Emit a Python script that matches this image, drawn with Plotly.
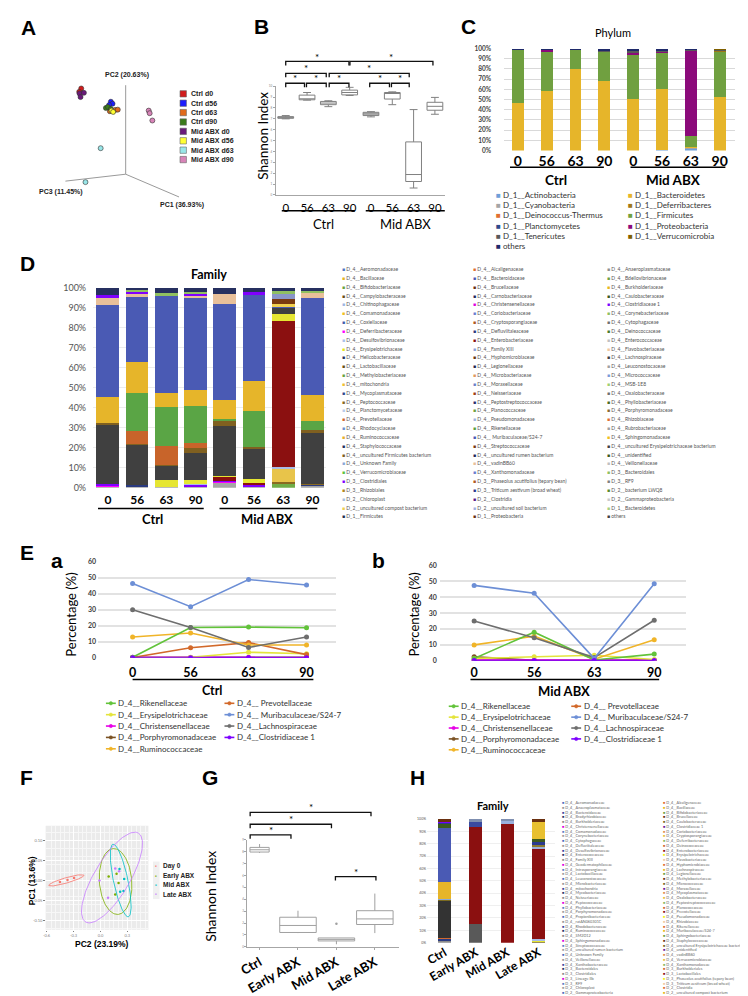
import numpy as np
import plotly.graph_objects as go

W, H = 748, 996
FONT = "Lato"
ARIAL = "Liberation Sans"

def X(p): return p / W
def Y(p): return 1 - p / H
def dx(a, b): return [a / W, b / W]
def dy(top, bottom): return [1 - bottom / H, 1 - top / H]

# ===================== DATA =====================
# ---- A : 3-D PCoA, projected screen coordinates of each sample ----
pcoa_groups = ["Ctrl d0", "Ctrl d56", "Ctrl d63", "Ctrl d90",
               "Mid ABX d0", "Mid ABX d56", "Mid ABX d63", "Mid ABX d90"]
pcoa_colors = ["#d01c1c", "#1c1cff", "#e06a1c", "#3a7a1a",
               "#6a1a7a", "#ffff33", "#99e6e8", "#d884b8"]
pcoa_x = [[65, 63], [95, 96.7, 93.3], [99.3, 102, 94], [90, 92, 95],
          [63.3, 67.7, 64.3], [95.7, 97.3], [84.7, 69.3], [133.3, 134.3, 137]]
pcoa_y = [[75.3, 78.7], [88.7, 90.7, 92], [97, 96.7, 98.3], [95, 94, 96],
          [80.3, 79.7, 84], [97.7, 99], [135.7, 170], [97.7, 100.3, 107.7]]
pcoa_axis_labels = ["PC2 (20.63%)", "PC3 (11.45%)", "PC1 (36.93%)"]

# ---- B : Shannon index boxes ----
b_days = ["0", "56", "63", "90", "0", "56", "63", "90"]
b_lower = [7.00, 8.72, 8.12, 9.15, 7.18, 8.30, 0.64, 7.42]
b_q1 = [7.05, 8.75, 8.30, 9.20, 7.30, 8.82, 1.24, 7.79]
b_med = [7.14, 8.82, 8.45, 9.42, 7.45, 9.36, 1.88, 8.15]
b_q3 = [7.20, 9.18, 8.60, 9.64, 7.60, 9.42, 4.88, 8.52]
b_upper = [7.30, 9.42, 8.66, 9.90, 7.66, 9.48, 7.85, 8.97]
b_fill = ["#c8c8c8", "#ffffff", "#ffffff", "#ffffff", "#c8c8c8", "#ffffff", "#ffffff", "#ffffff"]

# ---- C : Phylum (%) ----
c_days = ["0", "56", "63", "90", "0", "56", "63", "90"]
c_Actinobacteria = [0, 0, 0, 0, 0, 1.0, 2.5, 0]
c_Cyanobacteria = [0, 0, 0, 0, 0, 0, 1.0, 0]
c_Bacteroidetes = [47, 59, 80, 69, 51, 60, 0.5, 52.5]
c_Firmicutes = [52.5, 39, 19.5, 28.5, 44, 36, 11, 45]
c_Proteobacteria = [0, 1.5, 0, 0.5, 1.5, 0.5, 84, 0]
c_Deferribacteres = [0, 0, 0, 0, 0, 0, 0, 1.0]
c_Tenericutes = [0, 0, 0, 1.0, 2.5, 1.0, 0.5, 1.0]
c_Verrucomicrobia = [0, 0, 0, 0, 0, 0, 0, 0.5]
c_others = [0.5, 0.5, 0.5, 1.0, 1.0, 1.5, 0.5, 0]
c_leg1_names = ["D_1__Actinobacteria", "D_1__Cyanobacteria", "D_1__Deinococcus-Thermus",
                "D_1__Planctomycetes", "D_1__Tenericutes", "others"]
c_leg1_colors = ["#6f9fd8", "#a5a5a5", "#e07030", "#2e4a8a", "#595959", "#1f2a6a"]
c_leg2_names = ["D_1__Bacteroidetes", "D_1__Deferribacteres", "D_1__Firmicutes",
                "D_1__Proteobacteria", "D_1__Verrucomicrobia"]
c_leg2_colors = ["#e6b52a", "#a07818", "#70a040", "#8b0a7a", "#7f6000"]

# ---- D : Family (%) ----
d_days = ["0", "56", "63", "90", "0", "56", "63", "90"]
d_Anaeroplasmataceae = [0.5, 0.8, 0.5, 0.8, 2.5, 0.5, 0, 1.0]
d_Bdellovibrionaceae = [0, 0, 0, 0, 0, 0, 2.0, 0]
d_Carnobacteriaceae = [0, 0.7, 0, 0, 0, 0, 0, 0.5]
d_Christensenellaceae = [0.8, 0, 0, 0, 0.5, 0.3, 0, 0]
d_Clostridiaceae1 = [0.7, 0, 0, 0.7, 0.5, 0.5, 0, 0]
d_Peptococcaceae = [0, 0, 0, 0, 0, 0, 1.0, 0.5]
d_Sphingomonadaceae = [0, 0, 0, 0, 0, 0, 6.7, 0]
d_Pseudomonadaceae = [0, 0, 0, 0.5, 0, 0, 0.5, 0]
d_Enterobacteriaceae = [0, 0, 0, 0, 2.0, 1.2, 73.5, 0]
d_Erysipelotrichaceae = [0, 0, 3.5, 2.0, 0.5, 2.0, 3.3, 0]
d_Lachnospiraceae = [29.5, 20.0, 7.0, 13.3, 25.0, 15.0, 3.0, 25.5]
d_Porphyromonadaceae = [1.0, 0.5, 0.5, 2.7, 2.5, 1.0, 0, 1.5]
d_Prevotellaceae = [0, 6.5, 9.5, 2.2, 0, 0, 0, 0]
d_Rikenellaceae = [0, 19.0, 19.2, 18.9, 1.0, 18.0, 0, 4.2]
d_Ruminococcaceae = [13.0, 15.5, 7.0, 8.0, 9.5, 15.0, 0, 13.3]
d_Muribaculaceae = [46.1, 32.5, 49.0, 45.7, 48.2, 43.0, 0.5, 48.7]
d_vadinBB60 = [3.4, 1.5, 0, 1.3, 5.0, 0, 0, 2.3]
d_Clostridiales = [1.3, 1.0, 0, 1.0, 0, 1.5, 0, 0]
d_compost = [0, 0, 0, 0, 0, 0, 1.7, 0]
d_Streptococcaceae = [0, 0, 0, 0, 0, 0, 2.4, 0]
d_Coriobacteriaceae = [0, 0, 0, 0, 0, 0, 2.8, 0]
d_Corynebacteriaceae = [0, 1.0, 1.5, 1.0, 0, 0, 1.0, 1.0]
d_others = [3.7, 1.0, 2.3, 1.9, 2.8, 2.0, 1.6, 1.5]

d_leg1_names = ["D_4__Aeromonadaceae", "D_4__Bacillaceae", "D_4__Bifidobacteriaceae", "D_4__Campylobacteraceae",
                "D_4__Chitinophagaceae", "D_4__Comamonadaceae", "D_4__Coxiellaceae", "D_4__Deferribacteraceae",
                "D_4__Desulfovibrionaceae", "D_4__Erysipelotrichaceae", "D_4__Helicobacteraceae",
                "D_4__Lactobacillaceae", "D_4__Methylobacteriaceae", "D_4__mitochondria", "D_4__Mycoplasmataceae",
                "D_4__Peptococcaceae", "D_4__Planctomycetaceae", "D_4__Prevotellaceae", "D_4__Rhodocyclaceae",
                "D_4__Ruminococcaceae", "D_4__Staphylococcaceae", "D_4__uncultured Firmicutes bacterium",
                "D_4__Unknown Family", "D_4__Verrucomicrobiaceae", "D_3__Clostridiales", "D_3__Rhizobiales",
                "D_2__Chloroplast", "D_2__uncultured compost bacterium", "D_1__Firmicutes"]
d_leg1_colors = ["#4f77c4", "#e8b620", "#6aa23c", "#6b4e12", "#9db6e3", "#f0c020", "#3f5fae", "#ff00ff",
                 "#a9c1ea", "#e6e620", "#22335f", "#6a5010", "#6aa23c", "#f0c030", "#2e4a90", "#8a6a20",
                 "#b8cbea", "#d06a30", "#6a90d0", "#e8b02a", "#203060", "#806020", "#8aa8d8", "#5ec43e",
                 "#8000ff", "#b08820", "#a8c0e0", "#f0d050", "#203050"]
d_leg2_names = ["D_4__Alcaligenaceae", "D_4__Bacteroidaceae", "D_4__Brucellaceae", "D_4__Carnobacteriaceae",
                "D_4__Christensenellaceae", "D_4__Coriobacteriaceae", "D_4__Cryptosporangiaceae",
                "D_4__Defluviitaleaceae", "D_4__Enterobacteriaceae", "D_4__Family XIII", "D_4__Hyphomicrobiaceae",
                "D_4__Legionellaceae", "D_4__Microbacteriaceae", "D_4__Moraxellaceae", "D_4__Neisseriaceae",
                "D_4__Peptostreptococcaceae", "D_4__Planococcaceae", "D_4__Pseudomonadaceae", "D_4__Rikenellaceae",
                "D_4__ Muribaculaceae/S24-7", "D_4__Streptococcaceae", "D_4__uncultured rumen bacterium",
                "D_4__vadinBB60", "D_4__Xanthomonadaceae", "D_3__Phaseolus acutifolius (tepary bean)",
                "D_3__Triticum aestivum (broad wheat)", "D_2__Clostridia", "D_2__uncultured soil bacterium",
                "D_1__Proteobacteria"]
d_leg2_colors = ["#e07030", "#4a5ab4", "#6a3010", "#202a60", "#e000e0", "#6a7ed0", "#b05a20", "#2a3a80",
                 "#8b1010", "#8aa0d8", "#6a3a10", "#1e2850", "#e09860", "#6a80c8", "#a04010", "#2a3070",
                 "#70a040", "#a0b4e0", "#5aa040", "#4a5ab4", "#7a3a10", "#1e2a5a", "#e8c09a", "#6a7ed0",
                 "#b05a20", "#2a3a90", "#5a1a8a", "#a0b0e0", "#6a3010"]
d_leg3_names = ["D_4__Anaeroplasmataceae", "D_4__Bdellovibrionaceae", "D_4__Burkholderiaceae",
                "D_4__Caulobacteraceae", "D_4__Clostridiaceae 1", "D_4__Corynebacteriaceae", "D_4__Cytophagaceae",
                "D_4__Deinococcaceae", "D_4__Enterococcaceae", "D_4__Flavobacteriaceae", "D_4__Lachnospiraceae",
                "D_4__Leuconostocaceae", "D_4__Micrococcaceae", "D_4__MSB-1E8", "D_4__Oxalobacteraceae",
                "D_4__Phyllobacteriaceae", "D_4__Porphyromonadaceae", "D_4__Rhizobiaceae", "D_4__Rubrobacteriaceae",
                "D_4__Sphingomonadaceae", "D_4__uncultured Erysipelotrichaceae bacterium", "D_4__unidentified",
                "D_4__Veillonellaceae", "D_3__Bacteroidales", "D_3__RF9", "D_2__bacterium LWQ8",
                "D_2__Gammaproteobacteria", "D_1__Bacteroidetes", "others"]
d_leg3_colors = ["#909090", "#70a040", "#e8b820", "#3a5a1a", "#7a00ff", "#90c060", "#707070", "#4a7a2a",
                 "#c0c0c0", "#f0c8a0", "#404040", "#a0a0a0", "#7a9ad8", "#a0d070", "#707070", "#4a6a20",
                 "#8a6a30", "#e07030", "#a0a0a0", "#f0c020", "#404040", "#3a5a1a", "#c0c0c0", "#90c060",
                 "#808080", "#5a8a2a", "#c8c8c8", "#a8d080", "#404040"]

# ---- E : selected families over time (%) ----
e_days = ["0", "56", "63", "90"]
ea_Rikenellaceae = [0.3, 19.0, 19.2, 18.8]
ea_Prevotellaceae = [0.2, 6.3, 9.5, 2.0]
ea_Erysipelotrichaceae = [0.2, 0.3, 3.5, 2.5]
ea_Muribaculaceae = [46.5, 32.0, 49.0, 45.5]
ea_Christensenellaceae = [0.3, 0.2, 0.2, 0.2]
ea_Lachnospiraceae = [30.0, 19.0, 6.5, 13.0]
ea_Porphyromonadaceae = [0.2, 0.2, 0.2, 0.3]
ea_Clostridiaceae1 = [0.1, 0.1, 0.1, 0.1]
ea_Ruminococcaceae = [13.0, 15.5, 8.0, 8.0]

eb_Rikenellaceae = [1.5, 18.0, 0.5, 4.2]
eb_Prevotellaceae = [0.3, 0.2, 0.2, 0.2]
eb_Erysipelotrichaceae = [1.5, 2.5, 3.5, 0.8]
eb_Muribaculaceae = [47.5, 42.5, 1.5, 48.5]
eb_Christensenellaceae = [0.5, 0.3, 0.3, 0.3]
eb_Lachnospiraceae = [25.0, 14.5, 2.0, 25.5]
eb_Porphyromonadaceae = [2.5, 0.3, 0.2, 0.5]
eb_Clostridiaceae1 = [0.2, 0.2, 0.2, 0.2]
eb_Ruminococcaceae = [10.0, 15.5, 1.0, 13.3]

# ---- F : PCA ----
f_groups = ["Day 0", "Early ABX", "Mid ABX", "Late ABX"]
f_colors = ["#f8766d", "#7cae00", "#00bfc4", "#c77cff"]
f_pc2 = [[-0.452, -0.367, -0.294], [0.092, 0.180, 0.202, 0.165],
         [0.213, 0.265, 0.257, 0.220], [0.165, 0.209, -0.011, 0.085]]
f_pc1 = [[-0.004, 0.001, 0.006], [0.010, 0.017, -0.006, -0.035],
         [0.029, 0.004, -0.026, -0.028], [0.030, 0.023, 0.000, -0.043]]
f_ell_center = [(-0.380, 0.0004), (0.169, -0.0025), (0.226, 0.0), (0.129, 0.0074)]
f_ell_major = [(0.196, 0.0127), (-0.0276, 0.0822), (-0.086, 0.0906), (0.294, 0.111)]
f_ell_minor = [(0.0083, -0.0064), (0.180, 0.003), (0.0787, 0.00375), (0.171, -0.0227)]

# ---- G : Shannon index by ABX timing ----
g_cats = ["Ctrl", "Early ABX", "Mid ABX", "Late ABX"]
g_lower = [7.89, 1.16, 0.22, 1.16]
g_q1 = [7.97, 1.21, 0.50, 1.88]
g_med = [8.16, 1.80, 0.63, 2.35]
g_q3 = [8.36, 2.49, 0.75, 3.04]
g_upper = [8.64, 3.04, 0.75, 4.48]
g_width = [0.5, 0.95, 0.95, 0.95]
g_outlier_cat = [2]
g_outlier_val = [1.94]

# ---- H : Family (%) by ABX timing ----
h_cats = ["Ctrl", "Early ABX", "Mid ABX", "Late ABX"]
h_Desulfovibrionaceae = [2.0, 0, 0, 0]
h_Defluviitaleaceae = [1.0, 0, 0, 0]
h_Prevotellaceae = [0.7, 0, 0, 0]
h_Enterococcaceae = [0, 15.2, 0, 0]
h_Lactobacillaceae = [0, 0, 0, 1.0]
h_Erysipelotrichaceae = [0, 0, 0, 1.0]
h_Pseudomonadaceae = [0, 0, 0, 1.2]
h_Lachnospiraceae = [30.2, 0, 0, 0]
h_Porphyromonadaceae = [1.1, 0, 0, 0]
h_Peptococcaceae = [0.5, 0, 0, 0]
h_Ruminococcaceae = [13.5, 0, 0, 0]
h_Muribaculaceae = [43.5, 0, 0, 0]
h_Enterobacteriaceae = [0, 78.7, 96.0, 73.3]
h_Bacteroidaceae = [0, 4.0, 0, 0]
h_Micrococcaceae = [0, 0, 2.0, 1.0]
h_Peptostreptococcaceae = [0, 0, 0, 2.0]
h_Staphylococcaceae = [0, 0, 0, 1.6]
h_unidentified = [3.7, 0, 0, 2.4]
h_Lactobacillales = [0, 0, 0, 14.4]
h_Clostridiales = [0.8, 0, 0, 0]
h_Clostridiaceae1 = [0.3, 0, 0, 0]
h_Streptococcaceae = [2.7, 0, 0, 2.1]
h_others = [0, 2.1, 2.0, 0]

h_leg1_names = ["D_4__Aeromonadaceae", "D_4__Anaeroplasmataceae", "D_4__Bacteroidaceae", "D_4__Bradyrhizobiaceae",
                "D_4__Burkholderiaceae", "D_4__Christensenellaceae", "D_4__Comamonadaceae", "D_4__Corynebacteriaceae",
                "D_4__Cytophagaceae", "D_4__Defluviitaleaceae", "D_4__Desulfovibrionaceae", "D_4__Enterococcaceae",
                "D_4__Family XIII", "D_4__Geodermatophilaceae", "D_4__Intrasporangiaceae", "D_4__Lactobacillaceae",
                "D_4__Leuconostocaceae", "D_4__Microbacteriaceae", "D_4__mitochondria", "D_4__Mycobacteriaceae",
                "D_4__Neisseriaceae", "D_4__Peptococcaceae", "D_4__Phyllobacteriaceae", "D_4__Porphyromonadaceae",
                "D_4__Propionibacteriaceae", "D_4__ratAN060301C", "D_4__Rhodobacteraceae", "D_4__Ruminococcaceae",
                "D_4__SM2D12", "D_4__Sphingomonadaceae", "D_4__Streptococcaceae", "D_4__uncultured rumen bacterium",
                "D_4__Unknown Family", "D_4__Veillonellaceae", "D_4__Xanthobacteraceae", "D_3__Bacteroidales",
                "D_3__Clostridiales", "D_3__Lineage IIb", "D_3__RF9", "D_2__Chloroplast", "D_2__Gammaproteobacteria"]
h_leg2_names = ["D_4__Alcaligenaceae", "D_4__Bacillaceae", "D_4__Bifidobacteriaceae", "D_4__Brucellaceae",
                "D_4__Caulobacteraceae", "D_4__Clostridiaceae 1", "D_4__Coriobacteriaceae", "D_4__Cryptosporangiaceae",
                "D_4__Deferribacteraceae", "D_4__Deinococcaceae", "D_4__Enterobacteriaceae",
                "D_4__Erysipelotrichaceae", "D_4__Flavobacteriaceae", "D_4__Hyphomicrobiaceae",
                "D_4__Lachnospiraceae", "D_4__Legionellaceae", "D_4__Methylobacteriaceae", "D_4__Micrococcaceae",
                "D_4__Moraxellaceae", "D_4__Mycoplasmataceae", "D_4__Oxalobacteraceae",
                "D_4__Peptostreptococcaceae", "D_4__Planococcaceae", "D_4__Prevotellaceae",
                "D_4__Pseudomonadaceae", "D_4__Rhizobiaceae", "D_4__Rikenellaceae", "D_4__Muribaculaceae/S24-7",
                "D_4__Sphingobacteriaceae", "D_4__Staphylococcaceae",
                "D_4__uncultured Erysipelotrichaceae bacterium", "D_4__unidentified", "D_4__vadinBB60",
                "D_4__Verrucomicrobiaceae", "D_4__Xanthomonadaceae", "D_3__Burkholderiales", "D_3__Lactobacillales",
                "D_3__Phaseolus acutifolius (tepary bean)", "D_3__Triticum aestivum (bread wheat)",
                "D_2__Clostridia", "D_2__uncultured compost bacterium"]
h_leg1_palette = ["#4a6fc0", "#9a9a9a", "#3a4aa0", "#26366a", "#8c8c8c", "#e000e0", "#5b7fc7", "#a0a0a0"]
h_leg2_palette = ["#e07030", "#e8b820", "#70a040", "#6a3010", "#7a6a20", "#6a1a9a", "#e09050", "#e8c040",
                  "#8ab860", "#d06a30", "#8b1010", "#f0f020", "#f0c8a0"]

# ===================== FIGURE =====================
fig = go.Figure()
shapes, annos = [], []

def line_px(x0, y0, x1, y1, color="#000", width=1.0):
    shapes.append(dict(type="line", xref="paper", yref="paper", x0=X(x0), y0=Y(y0), x1=X(x1), y1=Y(y1),
                       line=dict(color=color, width=width)))

def text_px(x, y, txt, size=10, color="#000", family=FONT, xanchor="center", yanchor="middle", angle=0):
    annos.append(dict(x=X(x), y=Y(y), xref="paper", yref="paper", text=txt, showarrow=False,
                      font=dict(size=size, color=color, family=family), xanchor=xanchor, yanchor=yanchor,
                      textangle=angle, borderpad=0))

def bracket(x0, x1, y, h=4, star_dy=5):
    shapes.append(dict(type="path", xref="paper", yref="paper",
                       path=f"M {X(x0)},{Y(y + h)} L {X(x0)},{Y(y)} L {X(x1)},{Y(y)} L {X(x1)},{Y(y + h)}",
                       line=dict(color="#111", width=1.3)))
    text_px((x0 + x1) / 2, y - star_dy, "*", size=10)

# ---- panel letters ----
for L, x, y in [("A", 12, 14), ("B", 247, 13), ("C", 457, 13), ("D", 11, 252), ("E", 10, 545),
                ("a", 40, 553), ("b", 366, 553), ("F", 10, 772), ("G", 195, 772), ("H", 405, 772)]:
    text_px(x, y, f"<b>{L}</b>", size=21, family=ARIAL)

# ---- A ----
for g, c, xs, ys in zip(pcoa_groups, pcoa_colors, pcoa_x, pcoa_y):
    fig.add_trace(go.Scatter(x=xs, y=ys, mode="markers", xaxis="x", yaxis="y", showlegend=False,
                             marker=dict(size=5, color=c, line=dict(color="#333", width=0.6))))
for (x1, y1) in [(110, 72), (49, 169), (164, 185)]:
    shapes.append(dict(type="line", xref="x", yref="y", x0=110, y0=162, x1=x1, y1=y1,
                       line=dict(color="#9a9a9a", width=1)))
for lab, (x, y) in zip(pcoa_axis_labels, [(111, 62), (45, 180), (167, 193)]):
    text_px(x, y, f"<b>{lab}</b>", size=7, family=ARIAL, color="#222")
for i, (g, c) in enumerate(zip(pcoa_groups, pcoa_colors)):
    ry = 80.7 + 9.5 * i
    shapes.append(dict(type="rect", xref="paper", yref="paper", x0=X(165), x1=X(171.5), y0=Y(ry + 3.2),
                       y1=Y(ry - 3.2), fillcolor=c, line=dict(color="#666", width=0.6)))
    text_px(175, ry, f"<b>{g}</b>", size=7, family=ARIAL, color="#222", xanchor="left")

# ---- B ----
for i in range(len(b_days)):
    fig.add_trace(go.Box(x=[i], q1=[b_q1[i]], median=[b_med[i]], q3=[b_q3[i]], lowerfence=[b_lower[i]],
                         upperfence=[b_upper[i]], xaxis="x2", yaxis="y2", width=0.74, fillcolor=b_fill[i],
                         line=dict(color="#808080", width=1), whiskerwidth=0.5, showlegend=False,
                         boxpoints=False))
for (x0, x1, y) in [(272, 291, 70), (293, 313, 70), (316, 336, 70), (357, 377, 70), (379, 397, 70),
                    (272, 313, 60), (316, 397, 60), (272, 336, 48), (337, 421, 48)]:
    bracket(x0, x1, y)
line_px(268, 199, 342, 199, width=1.6)
line_px(353, 199, 433, 199, width=1.6)
text_px(310, 212, "Ctrl", size=13)
text_px(393, 212, "Mid ABX", size=13)
text_px(249, 123, "Shannon Index", size=13.5, angle=-90)

# ---- C ----
c_series = [(c_Actinobacteria, "#6f9fd8"), (c_Cyanobacteria, "#a5a5a5"), (c_Bacteroidetes, "#e6b52a"),
            (c_Firmicutes, "#70a040"), (c_Proteobacteria, "#8b0a7a"), (c_Deferribacteres, "#a07818"),
            (c_Tenericutes, "#595959"), (c_Verrucomicrobia, "#7f6000"), (c_others, "#1f2a6a")]
for vals, col in c_series:
    fig.add_trace(go.Bar(x=list(range(8)), y=vals, xaxis="x3", yaxis="y3", marker=dict(color=col, line=dict(width=0)),
                         width=0.41, showlegend=False))
text_px(603, 19, "Phylum", size=11)
line_px(499, 155, 594, 155, width=1.6)
line_px(621, 155, 717, 155, width=1.6)
text_px(546, 168, "<b>Ctrl</b>", size=13.5)
text_px(664, 168, "<b>Mid ABX</b>", size=13.5)
for i, (n, c) in enumerate(zip(c_leg1_names, c_leg1_colors)):
    text_px(484, 183 + 10.3 * i, f"<span style='color:{c}'>■</span> {n}", size=8, color="#333", xanchor="left")
for i, (n, c) in enumerate(zip(c_leg2_names, c_leg2_colors)):
    text_px(617, 183 + 10.3 * i, f"<span style='color:{c}'>■</span> {n}", size=8, color="#333", xanchor="left")

# ---- D ----
d_series = [(d_Anaeroplasmataceae, "#a6a6a6"), (d_Bdellovibrionaceae, "#70ad47"), (d_Carnobacteriaceae, "#2a3a80"),
            (d_Christensenellaceae, "#ff00ff"), (d_Clostridiaceae1, "#7f00ff"), (d_Peptococcaceae, "#8a6a20"),
            (d_Sphingomonadaceae, "#e8c44a"), (d_Pseudomonadaceae, "#a9bde6"), (d_Enterobacteriaceae, "#8b1010"),
            (d_Erysipelotrichaceae, "#e6e632"), (d_Lachnospiraceae, "#404040"), (d_Porphyromonadaceae, "#806020"),
            (d_Prevotellaceae, "#c8642a"), (d_Rikenellaceae, "#5aa545"), (d_Ruminococcaceae, "#e6b52a"),
            (d_Muribaculaceae, "#4a5ab4"), (d_vadinBB60, "#e8c09a"), (d_Clostridiales, "#8000ff"),
            (d_compost, "#f0d050"), (d_Streptococcaceae, "#7a3a10"), (d_Coriobacteriaceae, "#8a96c8"),
            (d_Corynebacteriaceae, "#90c060"), (d_others, "#263060")]
for vals, col in d_series:
    fig.add_trace(go.Bar(x=list(range(8)), y=vals, xaxis="x4", yaxis="y4", marker=dict(color=col, line=dict(width=0)),
                         width=0.78, showlegend=False))
text_px(194, 263, "<b>Family</b>", size=12.5)
line_px(82, 500, 189, 500, width=1.4)
line_px(205, 500, 304, 500, width=1.4)
text_px(137, 511, "<b>Ctrl</b>", size=13)
text_px(253, 511, "<b>Mid ABX</b>", size=13)
for col_x, names, cols in [(328, d_leg1_names, d_leg1_colors), (461, d_leg2_names, d_leg2_colors),
                           (596, d_leg3_names, d_leg3_colors)]:
    for i, (n, c) in enumerate(zip(names, cols)):
        text_px(col_x, 258 + 8.93 * i, f"<span style='color:{c}'>■</span> {n}", size=5, color="#555",
                xanchor="left")

# ---- E ----
e_style = {"Rikenellaceae": "#62c33a", "Prevotellaceae": "#d2692a", "Erysipelotrichaceae": "#e4e43c",
           "Muribaculaceae": "#6d8fd6", "Christensenellaceae": "#e600e6", "Lachnospiraceae": "#6e6e6e",
           "Porphyromonadaceae": "#7b5224", "Ruminococcaceae": "#f0b428", "Clostridiaceae1": "#7d00ff"}
ea_series = [("Porphyromonadaceae", ea_Porphyromonadaceae), ("Christensenellaceae", ea_Christensenellaceae),
             ("Erysipelotrichaceae", ea_Erysipelotrichaceae), ("Prevotellaceae", ea_Prevotellaceae),
             ("Ruminococcaceae", ea_Ruminococcaceae), ("Rikenellaceae", ea_Rikenellaceae),
             ("Lachnospiraceae", ea_Lachnospiraceae), ("Muribaculaceae", ea_Muribaculaceae),
             ("Clostridiaceae1", ea_Clostridiaceae1)]
eb_series = [("Prevotellaceae", eb_Prevotellaceae), ("Porphyromonadaceae", eb_Porphyromonadaceae),
             ("Christensenellaceae", eb_Christensenellaceae), ("Erysipelotrichaceae", eb_Erysipelotrichaceae),
             ("Ruminococcaceae", eb_Ruminococcaceae), ("Rikenellaceae", eb_Rikenellaceae),
             ("Lachnospiraceae", eb_Lachnospiraceae), ("Muribaculaceae", eb_Muribaculaceae),
             ("Clostridiaceae1", eb_Clostridiaceae1)]
for ax, series in [("5", ea_series), ("6", eb_series)]:
    for name, vals in series:
        fig.add_trace(go.Scatter(x=list(range(4)), y=vals, mode="lines+markers", xaxis="x" + ax, yaxis="y" + ax,
                                 line=dict(color=e_style[name], width=1.6),
                                 marker=dict(size=5, color=e_style[name]), showlegend=False))
line_px(117, 673, 300, 673, width=1.4)
line_px(459, 673, 650, 673, width=1.4)
text_px(197, 684, "<b>Ctrl</b>", size=12.5)
text_px(554, 685, "<b>Mid ABX</b>", size=13)
text_px(55, 607, "Percentage (%)", size=13, angle=-90)
text_px(402, 607, "Percentage (%)", size=13, angle=-90)
e_leg_col1 = [("D_4__Rikenellaceae", "Rikenellaceae"), ("D_4__Erysipelotrichaceae", "Erysipelotrichaceae"),
              ("D_4__Christensenellaceae", "Christensenellaceae"), ("D_4__Porphyromonadaceae", "Porphyromonadaceae"),
              ("D_4__Ruminococcaceae", "Ruminococcaceae")]
e_leg_col2 = [("D_4__ Prevotellaceae", "Prevotellaceae"), ("D_4__ Muribaculaceae/S24-7", "Muribaculaceae"),
              ("D_4__Lachnospiraceae", "Lachnospiraceae"), ("D_4__Clostridiaceae 1", "Clostridiaceae1")]

def e_key(x, y, col, label):
    line_px(x, y, x + 10, y, color=col, width=1.6)
    shapes.append(dict(type="circle", xref="paper", yref="paper", x0=X(x + 3.3), x1=X(x + 6.7),
                       y0=Y(y + 1.7), y1=Y(y - 1.7), fillcolor=col, line=dict(color=col, width=0.5)))
    text_px(x + 11.5, y, label, size=8, color="#333", xanchor="left")

for (x1, x2, y0, dyy) in [(90, 210, 697, 11.5), (437, 561, 700, 11.0)]:
    for i, (lab, key) in enumerate(e_leg_col1):
        e_key(x1, y0 + dyy * i, e_style[key], lab)
    for i, (lab, key) in enumerate(e_leg_col2):
        e_key(x2, y0 + dyy * i, e_style[key], lab)

# ---- F ----
shapes.append(dict(type="rect", xref="paper", yref="paper", x0=X(29), x1=X(133), y0=Y(926), y1=Y(820.7),
                   fillcolor="#ebebeb", line=dict(width=0), layer="below"))
tt = np.linspace(0, 2 * np.pi, 120)
for g, c, xs, ys, cen, mj, mn in zip(f_groups, f_colors, f_pc2, f_pc1, f_ell_center, f_ell_major, f_ell_minor):
    ex = cen[0] + mj[0] * np.cos(tt) + mn[0] * np.sin(tt)
    ey = cen[1] + mj[1] * np.cos(tt) + mn[1] * np.sin(tt)
    fig.add_trace(go.Scatter(x=ex, y=ey, mode="lines", xaxis="x7", yaxis="y7", line=dict(color=c, width=0.8),
                             showlegend=False))
    fig.add_trace(go.Scatter(x=xs, y=ys, mode="markers", xaxis="x7", yaxis="y7",
                             marker=dict(size=2.5, color=c), showlegend=False))
shapes.append(dict(type="rect", xref="paper", yref="paper", x0=X(137.7), x1=X(144.3), y0=Y(895), y1=Y(857),
                   fillcolor="#f0f0f0", line=dict(width=0)))
for i, (g, c) in enumerate(zip(f_groups, f_colors)):
    ry = 861.7 + 9.45 * i
    text_px(141, ry, "●", size=3, color=c)
    text_px(146.5, ry, f"<b>{g}</b>", size=6.5, family=ARIAL, color="#222", xanchor="left")
text_px(16, 876, "<b>PC1 (13.6%)</b>", size=8.5, family=ARIAL, angle=-90)
text_px(86, 940, "<b>PC2 (23.19%)</b>", size=8.5, family=ARIAL)

# ---- G ----
for i in range(4):
    fig.add_trace(go.Box(x=[i], q1=[g_q1[i]], median=[g_med[i]], q3=[g_q3[i]], lowerfence=[g_lower[i]],
                         upperfence=[g_upper[i]], xaxis="x8", yaxis="y8", width=g_width[i], fillcolor="#ffffff",
                         line=dict(color="#a0a0a0", width=1), whiskerwidth=0.0, showlegend=False, boxpoints=False))
fig.add_trace(go.Scatter(x=g_outlier_cat, y=g_outlier_val, mode="markers", xaxis="x8", yaxis="y8",
                         marker=dict(size=2.5, color="#a0a0a0"), showlegend=False))
for (x0, x1, y) in [(236, 277.3, 830), (236, 318.3, 819.3), (236, 358.3, 807.3), (322.3, 363.3, 872.3)]:
    bracket(x0, x1, y)
text_px(196, 892, "Shannon Index", size=14, angle=-90)

# ---- H ----
h_series = [(h_Desulfovibrionaceae, "#8c8c8c"), (h_Defluviitaleaceae, "#2a3a80"), (h_Prevotellaceae, "#d06a30"),
            (h_Enterococcaceae, "#595959"), (h_Lactobacillaceae, "#7a6a20"), (h_Erysipelotrichaceae, "#e6e632"),
            (h_Pseudomonadaceae, "#a9bde6"), (h_Lachnospiraceae, "#333333"), (h_Porphyromonadaceae, "#7a6a20"),
            (h_Peptococcaceae, "#8aa8d8"), (h_Ruminococcaceae, "#e6b52a"), (h_Muribaculaceae, "#4a5ab4"),
            (h_Enterobacteriaceae, "#8b1010"), (h_Bacteroidaceae, "#3a4aa0"), (h_Micrococcaceae, "#9ab0dc"),
            (h_Peptostreptococcaceae, "#8a7a30"), (h_Staphylococcaceae, "#2a3a90"), (h_unidentified, "#3d5a1e"),
            (h_Lactobacillales, "#e8c030"), (h_Clostridiales, "#2a3a90"), (h_Clostridiaceae1, "#7a00ff"),
            (h_Streptococcaceae, "#6a3010"), (h_others, "#7f8fb0")]
for vals, col in h_series:
    fig.add_trace(go.Bar(x=list(range(4)), y=vals, xaxis="x9", yaxis="y9", marker=dict(color=col, line=dict(width=0)),
                         width=0.41, showlegend=False))
text_px(482, 800, "<b>Family</b>", size=11)
for col_x, names, pal in [(551, h_leg1_names, h_leg1_palette), (653, h_leg2_names, h_leg2_palette)]:
    for i, n in enumerate(names):
        c = pal[i % len(pal)]
        text_px(col_x, 797.5 + 4.8 * i, f"<span style='color:{c}'>■</span> {n}", size=3.8, color="#666",
                xanchor="left")

# ===================== AXES =====================
pct_vals = list(range(0, 101, 10))
pct_text = [f"{v}%" for v in pct_vals]
hidden = dict(visible=False)
lay = dict(
    xaxis=dict(domain=dx(0, 240), range=[0, 240], anchor="y", **hidden),
    yaxis=dict(domain=dy(0, 240), range=[240, 0], anchor="x", **hidden),
    # B
    xaxis2=dict(domain=dx(262, 433), range=[-0.464, 7.464], anchor="y2", tickvals=list(range(8)), ticktext=b_days,
                tickfont=dict(size=11.5, color="#000", family=FONT), showline=True, linecolor="#a6a6a6",
                showgrid=False, zeroline=False, ticks="", ticklabelstandoff=2),
    yaxis2=dict(domain=dy(73, 183), range=[0, 10], anchor="x2", dtick=1, tickfont=dict(size=3, color="#888"),
                showline=True, linecolor="#a6a6a6", ticks="outside", ticklen=2, tickcolor="#a6a6a6",
                showgrid=False, zeroline=False),
    # C
    xaxis3=dict(domain=dx(493, 727), range=[-0.48, 7.54], anchor="y3", tickvals=list(range(8)), ticktext=c_days,
                tickfont=dict(size=14, color="#000", family=FONT, weight="bold"), showgrid=False, zeroline=False,
                ticks="", ticklabelstandoff=1),
    yaxis3=dict(domain=dy(35, 138), range=[0, 100], anchor="x3", tickvals=pct_vals, ticktext=pct_text,
                tickfont=dict(size=6.5, color="#444", family=FONT, weight="bold"), showgrid=True,
                gridcolor="#d9d9d9", zeroline=False, ticks="", ticklabelstandoff=12),
    # D
    xaxis4=dict(domain=dx(77, 313), range=[-0.507, 7.47], anchor="y4", tickvals=list(range(8)), ticktext=d_days,
                tickfont=dict(size=12, color="#000", family=FONT, weight="bold"), showgrid=False, zeroline=False,
                ticks="", ticklabelstandoff=3),
    yaxis4=dict(domain=dy(277, 479), range=[0, 100], anchor="x4", tickvals=pct_vals, ticktext=pct_text,
                tickfont=dict(size=9, color="#555", family=FONT), showgrid=True, gridcolor="#ececec",
                zeroline=False, ticks="", ticklabelstandoff=6),
    # E a
    xaxis5=dict(domain=dx(82, 323), range=[-0.597, 3.51], anchor="y5", tickvals=list(range(4)), ticktext=e_days,
                tickfont=dict(size=12.5, color="#000", family=FONT, weight="bold"), showgrid=False, zeroline=False,
                ticks="", ticklabelstandoff=6),
    yaxis5=dict(domain=dy(554, 651), range=[0, 60], anchor="x5", dtick=10,
                tickfont=dict(size=7, color="#404040", family=FONT, weight="bold"), showgrid=True,
                gridcolor="#e2e2e2", gridwidth=1.5, zeroline=False, ticks="", ticklabelstandoff=1),
    # E b
    xaxis6=dict(domain=dx(428, 677), range=[-0.571, 3.527], anchor="y6", tickvals=list(range(4)), ticktext=e_days,
                tickfont=dict(size=12.5, color="#000", family=FONT, weight="bold"), showgrid=False, zeroline=False,
                ticks="", ticklabelstandoff=3),
    yaxis6=dict(domain=dy(557.7, 654), range=[0, 60], anchor="x6", dtick=10,
                tickfont=dict(size=7, color="#404040", family=FONT, weight="bold"), showgrid=True,
                gridcolor="#e2e2e2", gridwidth=1.5, zeroline=False, ticks="", ticklabelstandoff=2),
    # F
    xaxis7=dict(domain=dx(29, 133), range=[-0.611, 0.535], anchor="y7", tickvals=[-0.6, -0.3, 0, 0.3],
                ticktext=["-0.6", "-0.3", "0.0", "0.3"], tickfont=dict(size=4, color="#7f7f7f"), showgrid=True,
                gridcolor="#ffffff", gridwidth=0.8, zeroline=False, ticks="outside", ticklen=1.5,
                tickcolor="#7f7f7f", minor=dict(showgrid=True, gridcolor="#f7f7f7", gridwidth=0.4)),
    yaxis7=dict(domain=dy(820.7, 926), range=[-0.123, 0.137], anchor="x7", tickvals=[-0.1, -0.05, 0, 0.05, 0.1],
                ticktext=["-0.10", "-0.05", "0.00", "0.05", "0.10"], tickfont=dict(size=4, color="#7f7f7f"),
                showgrid=True, gridcolor="#ffffff", gridwidth=0.8, zeroline=False, ticks="outside", ticklen=1.5,
                tickcolor="#7f7f7f", minor=dict(showgrid=True, gridcolor="#f7f7f7", gridwidth=0.4)),
    # G
    xaxis8=dict(domain=dx(233.3, 386.7), range=[-0.314, 3.63], anchor="y8", tickvals=list(range(4)),
                ticktext=g_cats, tickangle=-30, tickfont=dict(size=13, color="#000", family=FONT, weight="bold"),
                showline=True, linecolor="#a6a6a6", showgrid=False, zeroline=False, ticks="outside", ticklen=2,
                tickcolor="#a6a6a6"),
    yaxis8=dict(domain=dy(835, 943.3), range=[0, 9], anchor="x8", dtick=1, tickfont=dict(size=3, color="#888"),
                showline=True, linecolor="#a6a6a6", ticks="outside", ticklen=2, tickcolor="#a6a6a6",
                showgrid=False, zeroline=False),
    # H
    xaxis9=dict(domain=dx(415, 545), range=[-0.557, 3.535], anchor="y9", tickvals=list(range(4)), ticktext=h_cats,
                tickangle=-30, tickfont=dict(size=12, color="#000", family=FONT, weight="bold"), showgrid=False,
                zeroline=False, ticks=""),
    yaxis9=dict(domain=dy(814, 939), range=[0, 100], anchor="x9", tickvals=pct_vals, ticktext=pct_text,
                tickfont=dict(size=3.5, color="#555", family=FONT), showgrid=True, gridcolor="#efefef",
                zeroline=False, ticks="", ticklabelstandoff=0),
)
fig.update_layout(**lay)
fig.update_layout(width=W, height=H, margin=dict(l=0, r=0, t=0, b=0), paper_bgcolor="white",
                  plot_bgcolor="rgba(0,0,0,0)", barmode="stack", bargap=0, showlegend=False,
                  font=dict(family=FONT, color="#000"), shapes=shapes, annotations=annos, hovermode=False)
fig.write_html("out.html")
